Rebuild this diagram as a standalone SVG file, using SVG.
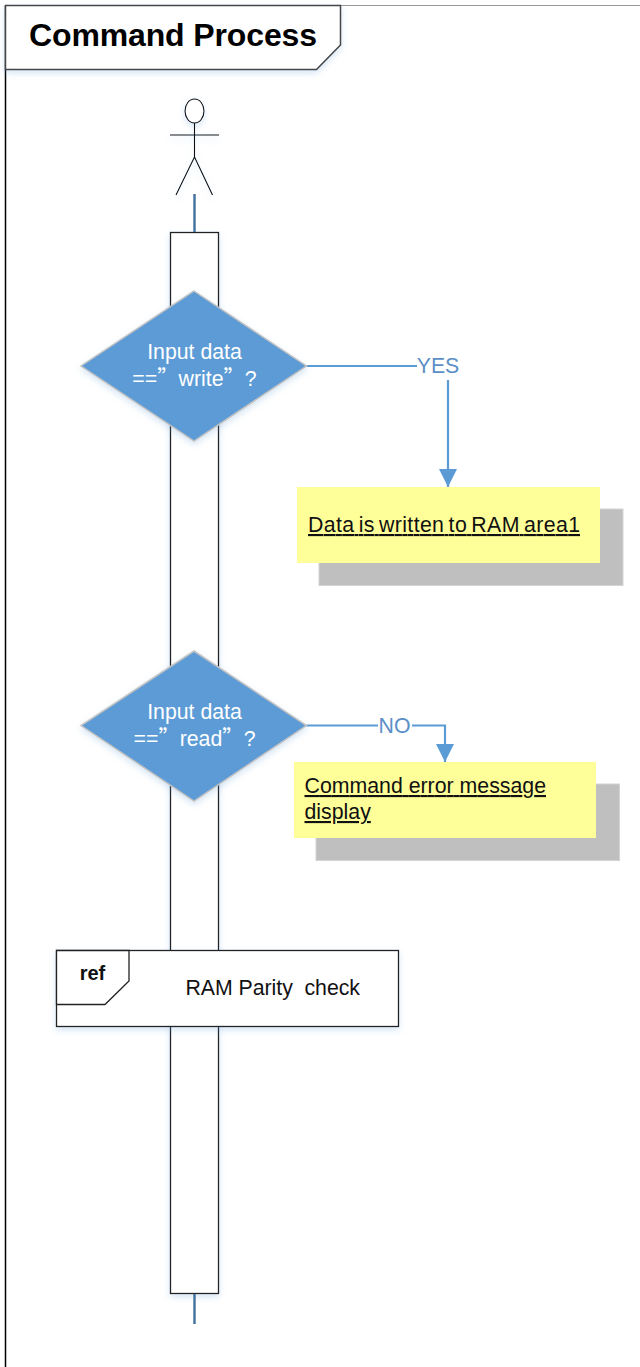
<svg xmlns="http://www.w3.org/2000/svg" width="640" height="1367" viewBox="0 0 640 1367">
<style>
text{font-family:"Liberation Sans",Arial,sans-serif;white-space:pre}
.q{font-family:"Noto Sans CJK SC","Liberation Sans",sans-serif}
.l{fill:#fff;stroke:#222;stroke-width:1.300}
.b{fill:none;stroke:#111;stroke-width:1.100}
.c{fill:none;stroke:#5b9bd5;stroke-width:2.200}
.cd{fill:none;stroke:#41719c;stroke-width:2.400}
.d{fill:#5b9bd5;stroke:#c4c4c4;stroke-width:1.500}
.dt{fill:#fff;font-size:21.300px;text-anchor:middle}
.lab{fill:#5b8fc7;font-size:21.300px;text-anchor:middle}
.y{fill:#ffff99}
.sh{fill:#bfbfbf;stroke:#d4d4d4;stroke-width:1}
.t{fill:#111;font-size:21.300px;text-decoration:underline}
</style>
<defs>
<marker id="a" markerUnits="userSpaceOnUse" markerWidth="18" markerHeight="18" refX="18" refY="9" orient="auto"><path d="M0,0L18,9L0,18Z" fill="#5b9bd5"/></marker>
<filter id="g" x="-20%" y="-20%" width="140%" height="140%"><feDropShadow dx="0" dy="3" stdDeviation="3" flood-color="#5b9bd5" flood-opacity=".25"/></filter>
</defs>
<g id="frame">
<path d="M5.500 1367V5.500" fill="none" stroke="#000" stroke-width="1.500"/>
<path d="M340 5.500H640" fill="none" stroke="#999" stroke-width="1"/>
<path d="M5.500 5.500H340.500V45L316.500 69.500H5.500Z" fill="#fff" stroke="#444" stroke-width="1.500" filter="url(#g)"/>
<text x="173" y="46" font-size="32" font-weight="700" fill="#000" text-anchor="middle" textLength="288">Command Process</text>
</g>
<g id="actor" filter="url(#g)">
<ellipse cx="194.500" cy="111" rx="9.500" ry="12" fill="#fff" stroke="#111" stroke-width="1.100"/>
<path class="b" d="M170 135H219M194.500 123V157M194.500 157L176 195M194.500 157L212.500 195"/>
</g>
<g id="lifeline">
<rect class="l" x="170.500" y="232.500" width="48" height="1061" filter="url(#g)"/>
</g>
<g id="connectors">
<path class="cd" d="M194.500 194V232M194.500 1294V1324"/>
<path class="c" d="M306 366H417"/>
<path class="c" d="M448 380V487" marker-end="url(#a)"/>
<path class="c" d="M306 725.500H378"/>
<path class="c" d="M412 725.500H445V762" marker-end="url(#a)"/>
<text class="lab" x="438" y="373">YES</text>
<text class="lab" x="394.500" y="733">NO</text>
</g>
<g id="decision1">
<path class="d" d="M194 291L306.500 366L194 441L81 366Z" filter="url(#g)"/>
<text class="dt" x="194.500" y="359">Input data</text>
<text class="dt" x="194.500" y="386">==<tspan class="q">”</tspan>write<tspan class="q">”</tspan>?</text>
</g>
<g id="decision2">
<path class="d" d="M194 651L306.500 725.500L194 801L81 725.500Z" filter="url(#g)"/>
<text class="dt" x="194.500" y="719">Input data</text>
<text class="dt" x="194.500" y="746">==<tspan class="q">”</tspan>read<tspan class="q">”</tspan>?</text>
</g>
<g id="action1">
<rect class="sh" x="319" y="509" width="304" height="76.500"/>
<rect class="y" x="297" y="487" width="303" height="76"/>
<text class="t" x="308" y="532" word-spacing="-2" textLength="272">Data is written to RAM area1</text>
</g>
<g id="action2">
<rect class="sh" x="316" y="784" width="303.500" height="76.500"/>
<rect class="y" x="294" y="762" width="302" height="76"/>
<text class="t" x="304.500" y="793" textLength="241.500">Command error message</text>
<text class="t" x="304.500" y="819">display</text>
</g>
<g id="ref">
<rect class="l" x="56.500" y="950.500" width="342" height="76" filter="url(#g)"/>
<path d="M56.500 950.500H129V981L105 1004.500H56.500Z" fill="#fff" stroke="#222" stroke-width="1.300"/>
<text x="92.500" y="980" font-size="20" font-weight="700" fill="#111" text-anchor="middle">ref</text>
<text x="185.500" y="995" font-size="21.300" fill="#111" textLength="174.500">RAM Parity  check</text>
</g>
</svg>
